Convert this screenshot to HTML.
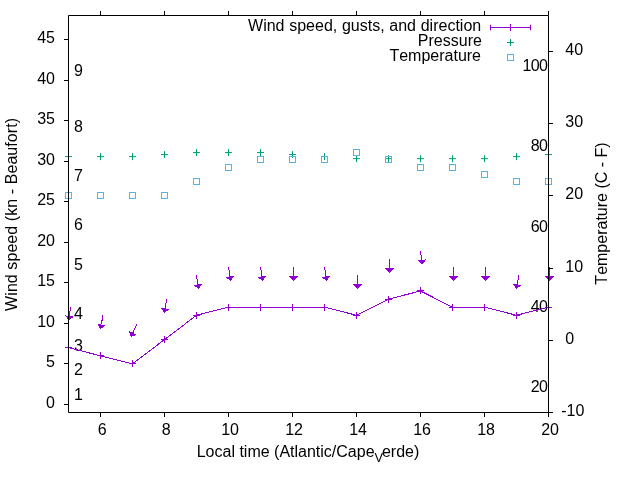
<!DOCTYPE html>
<html><head><meta charset="utf-8"><title>Wind speed, gusts, and direction</title>
<style>html,body{margin:0;padding:0;background:#fff}svg{display:block}text{font-kerning:none;font-family:"Liberation Sans",Arial,sans-serif;font-size:16px;fill:#000}</style></head><body>
<svg width="640" height="480" viewBox="0 0 640 480">
<rect width="640" height="480" fill="#fff"/>
<text x="74" y="400.0">1</text>
<text x="74" y="375.0">2</text>
<text x="74" y="351.0">3</text>
<text x="74" y="319.0">4</text>
<text x="74" y="270.0">5</text>
<text x="74" y="230.0">6</text>
<text x="74" y="181.0">7</text>
<text x="74" y="132.0">8</text>
<text x="74" y="76.0">9</text>
<text x="547.4" y="392.0" text-anchor="end" letter-spacing="-0.6">20</text>
<text x="547.4" y="312.0" text-anchor="end" letter-spacing="-0.6">40</text>
<text x="547.4" y="232.0" text-anchor="end" letter-spacing="-0.6">60</text>
<text x="547.4" y="151.0" text-anchor="end" letter-spacing="-0.6">80</text>
<text x="547.4" y="71.0" text-anchor="end" letter-spacing="-0.6">100</text>
<g stroke="#9400D3" stroke-width="1" fill="none" shape-rendering="crispEdges">
<polyline points="68.50,347.68 100.50,355.79 132.50,363.89 164.50,339.58 196.50,315.28 228.50,307.17 260.50,307.17 292.50,307.17 324.50,307.17 356.50,315.28 388.50,299.07 420.50,290.97 452.50,307.17 484.50,307.17 516.50,315.28 548.50,307.17"/>
<path d="M65.00,347.68h7M68.50,344.18v7M97.00,355.79h7M100.50,352.29v7M129.00,363.89h7M132.50,360.39v7M161.00,339.58h7M164.50,336.08v7M193.00,315.28h7M196.50,311.78v7M225.00,307.17h7M228.50,303.67v7M257.00,307.17h7M260.50,303.67v7M289.00,307.17h7M292.50,303.67v7M321.00,307.17h7M324.50,303.67v7M353.00,315.28h7M356.50,311.78v7M385.00,299.07h7M388.50,295.57v7M417.00,290.97h7M420.50,287.47v7M449.00,307.17h7M452.50,303.67v7M481.00,307.17h7M484.50,303.67v7M513.00,315.28h7M516.50,311.78v7M545.00,307.17h7M548.50,303.67v7"/>
</g>
<g stroke="#9400D3" stroke-width="1" fill="#9400D3" shape-rendering="crispEdges">
<path d="M70.70,307.10L69.31,315.96" fill="none"/>
<path d="M68.60,320.50L64.97,315.27L73.66,316.64Z" stroke="none"/>
<path d="M103.00,315.00L101.31,324.47" fill="none"/>
<path d="M100.50,329.00L96.98,323.70L105.64,325.25Z" stroke="none"/>
<path d="M136.80,324.40L132.85,332.83" fill="none"/>
<path d="M130.90,337.00L128.87,330.97L136.84,334.70Z" stroke="none"/>
<path d="M166.70,299.00L165.21,308.46" fill="none"/>
<path d="M164.50,313.00L160.87,307.77L169.56,309.14Z" stroke="none"/>
<path d="M196.40,275.00L197.89,284.46" fill="none"/>
<path d="M198.60,289.00L193.54,285.14L202.23,283.77Z" stroke="none"/>
<path d="M228.50,267.00L229.99,276.46" fill="none"/>
<path d="M230.70,281.00L225.64,277.14L234.33,275.77Z" stroke="none"/>
<path d="M260.50,267.00L261.99,276.46" fill="none"/>
<path d="M262.70,281.00L257.64,277.14L266.33,275.77Z" stroke="none"/>
<path d="M293.50,267.00L293.50,276.40" fill="none"/>
<path d="M293.50,281.00L289.10,276.40L297.90,276.40Z" stroke="none"/>
<path d="M324.50,267.00L325.99,276.46" fill="none"/>
<path d="M326.70,281.00L321.64,277.14L330.33,275.77Z" stroke="none"/>
<path d="M357.50,275.00L357.50,284.40" fill="none"/>
<path d="M357.50,289.00L353.10,284.40L361.90,284.40Z" stroke="none"/>
<path d="M389.50,259.00L389.50,268.40" fill="none"/>
<path d="M389.50,273.00L385.10,268.40L393.90,268.40Z" stroke="none"/>
<path d="M420.40,251.00L421.86,259.96" fill="none"/>
<path d="M422.60,264.50L417.52,260.67L426.20,259.25Z" stroke="none"/>
<path d="M453.50,267.00L453.50,276.40" fill="none"/>
<path d="M453.50,281.00L449.10,276.40L457.90,276.40Z" stroke="none"/>
<path d="M485.50,267.00L485.50,276.40" fill="none"/>
<path d="M485.50,281.00L481.10,276.40L489.90,276.40Z" stroke="none"/>
<path d="M518.80,275.00L517.18,284.47" fill="none"/>
<path d="M516.40,289.00L512.84,283.72L521.51,285.21Z" stroke="none"/>
<path d="M549.50,267.00L549.50,276.40" fill="none"/>
<path d="M549.50,281.00L545.10,276.40L553.90,276.40Z" stroke="none"/>
</g>
<path d="M65.00,156.62h7M68.50,153.12v7M97.00,156.62h7M100.50,153.12v7M129.00,156.62h7M132.50,153.12v7M161.00,154.59h7M164.50,151.09v7M193.00,152.56h7M196.50,149.06v7M225.00,152.56h7M228.50,149.06v7M257.00,152.56h7M260.50,149.06v7M289.00,154.59h7M292.50,151.09v7M321.00,156.62h7M324.50,153.12v7M353.00,158.65h7M356.50,155.15v7M385.00,158.65h7M388.50,155.15v7M417.00,158.65h7M420.50,155.15v7M449.00,158.65h7M452.50,155.15v7M481.00,158.65h7M484.50,155.15v7M513.00,156.62h7M516.50,153.12v7M545.00,154.59h7M548.50,151.09v7M507,42.5h7M510.5,39v7" stroke="#009E73" stroke-width="1" fill="none"/>
<g stroke="#56B4E9" stroke-width="1" fill="none">
<rect x="65.50" y="192.50" width="6" height="6"/>
<rect x="97.50" y="192.50" width="6" height="6"/>
<rect x="129.50" y="192.50" width="6" height="6"/>
<rect x="161.50" y="192.50" width="6" height="6"/>
<rect x="193.50" y="178.50" width="6" height="6"/>
<rect x="225.50" y="164.50" width="6" height="6"/>
<rect x="257.50" y="156.50" width="6" height="6"/>
<rect x="289.50" y="156.50" width="6" height="6"/>
<rect x="321.50" y="156.50" width="6" height="6"/>
<rect x="353.50" y="149.50" width="6" height="6"/>
<rect x="385.50" y="156.50" width="6" height="6"/>
<rect x="417.50" y="164.50" width="6" height="6"/>
<rect x="449.50" y="164.50" width="6" height="6"/>
<rect x="481.50" y="171.50" width="6" height="6"/>
<rect x="513.50" y="178.50" width="6" height="6"/>
<rect x="545.50" y="178.50" width="6" height="6"/>
<rect x="507.5" y="54.5" width="6" height="6"/>
</g>
<path d="M490,27.5H531M490.5,24.7v5.6M530.5,24.7v5.6M510.5,24v7" stroke="#9400D3" stroke-width="1" fill="none"/>
<path d="M68.5,15.5H548.5V412.5H68.5ZM68.5,404.5h-4.5M68.5,363.5h-4.5M68.5,323.5h-4.5M68.5,282.5h-4.5M68.5,242.5h-4.5M68.5,201.5h-4.5M68.5,161.5h-4.5M68.5,120.5h-4.5M68.5,80.5h-4.5M68.5,39.5h-4.5M548.5,412.5h4.5M548.5,340.5h4.5M548.5,268.5h4.5M548.5,195.5h4.5M548.5,123.5h4.5M548.5,51.5h4.5M100.5,412.5v4.5M100.5,15.5v-4.5M164.5,412.5v4.5M164.5,15.5v-4.5M228.5,412.5v4.5M228.5,15.5v-4.5M292.5,412.5v4.5M292.5,15.5v-4.5M356.5,412.5v4.5M356.5,15.5v-4.5M420.5,412.5v4.5M420.5,15.5v-4.5M484.5,412.5v4.5M484.5,15.5v-4.5M548.5,412.5v4.5M548.5,15.5v-4.5" stroke="#000" stroke-width="1" fill="none"/>
<text x="55" y="408.0" text-anchor="end">0</text>
<text x="55" y="367.0" text-anchor="end">5</text>
<text x="55" y="327.0" text-anchor="end">10</text>
<text x="55" y="286.0" text-anchor="end">15</text>
<text x="55" y="246.0" text-anchor="end">20</text>
<text x="55" y="205.0" text-anchor="end">25</text>
<text x="55" y="165.0" text-anchor="end">30</text>
<text x="55" y="124.0" text-anchor="end">35</text>
<text x="55" y="84.0" text-anchor="end">40</text>
<text x="55" y="43.0" text-anchor="end">45</text>
<text x="561.2" y="416.0">-10</text>
<text x="565.3" y="344.0">0</text>
<text x="565.3" y="272.0">10</text>
<text x="565.3" y="199.0">20</text>
<text x="565.3" y="127.0">30</text>
<text x="565.3" y="55.0">40</text>
<text x="102.1" y="435.2" text-anchor="middle">6</text>
<text x="166.1" y="435.2" text-anchor="middle">8</text>
<text x="230.1" y="435.2" text-anchor="middle">10</text>
<text x="294.1" y="435.2" text-anchor="middle">12</text>
<text x="358.1" y="435.2" text-anchor="middle">14</text>
<text x="422.1" y="435.2" text-anchor="middle">16</text>
<text x="486.1" y="435.2" text-anchor="middle">18</text>
<text x="550.1" y="435.2" text-anchor="middle">20</text>
<text x="481.2" y="31" text-anchor="end" word-spacing="0.25">Wind speed, gusts, and direction</text>
<text x="481.9" y="46" text-anchor="end">Pressure</text>
<text x="481" y="61" text-anchor="end">Temperature</text>
<text transform="translate(17.3,214.4) rotate(-90)" text-anchor="middle" letter-spacing="0.07">Wind speed (kn - Beaufort)</text>
<text transform="translate(607,213.5) rotate(-90)" text-anchor="middle">Temperature (C - F)</text>
<text x="196.7" y="457">Local time (Atlantic/Cape<tspan dy="4.6" font-size="12.8px">V</tspan><tspan dy="-4.6" dx="-1.2">erde)</tspan></text>
</svg></body></html>
